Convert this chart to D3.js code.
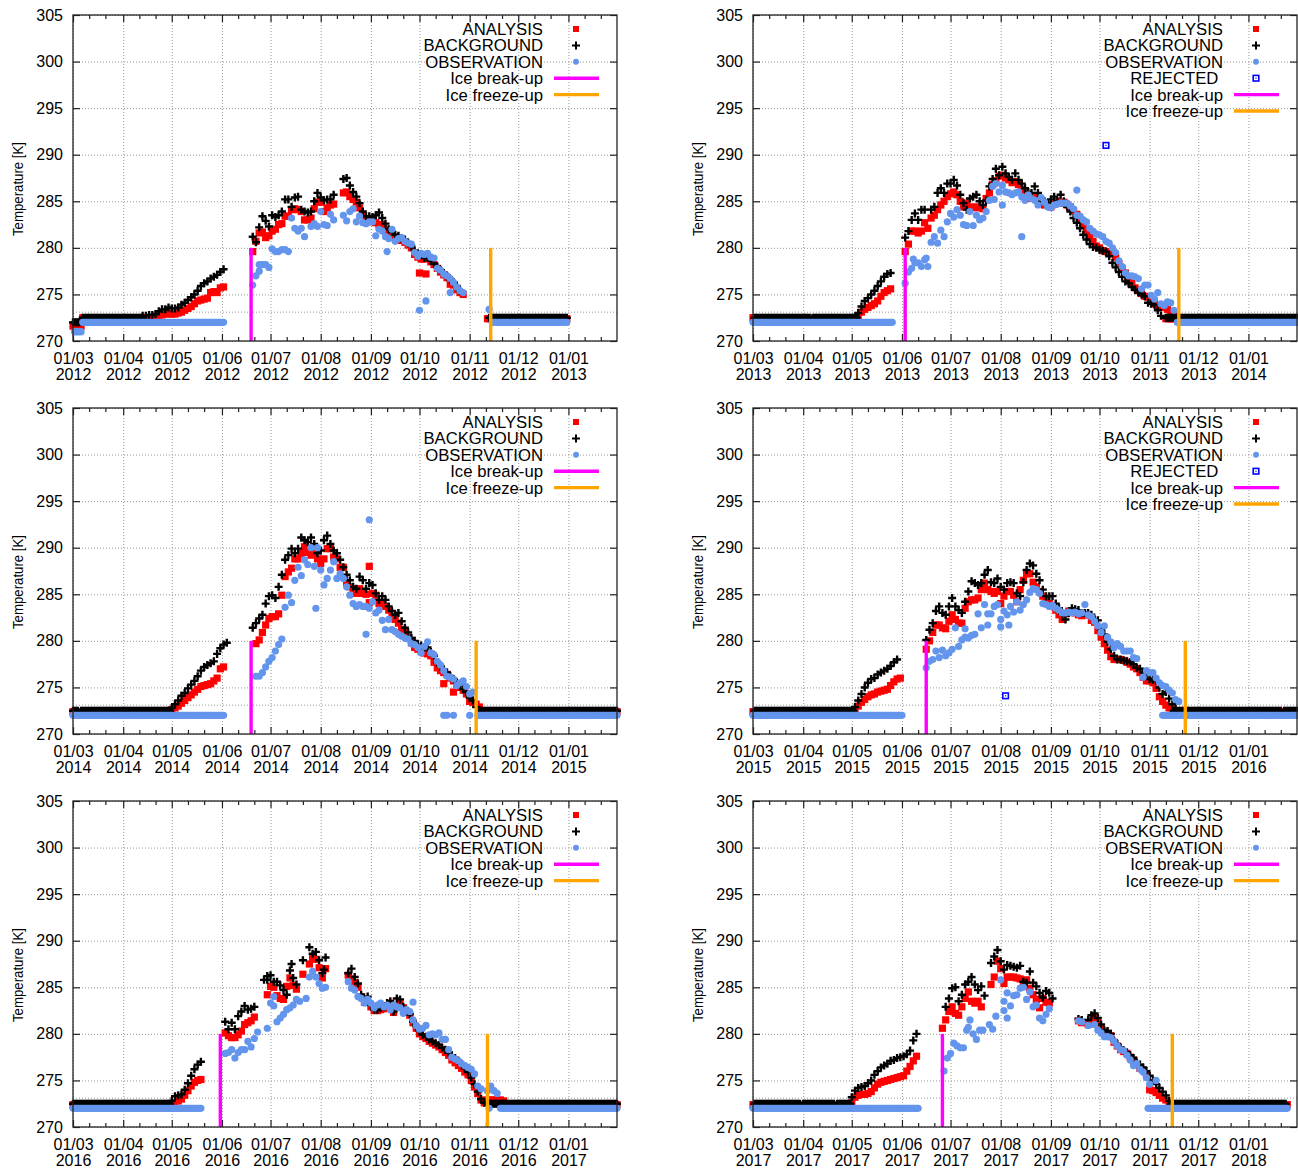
<!DOCTYPE html>
<html>
<head>
<meta charset="utf-8">
<script src="https://cdnjs.cloudflare.com/ajax/libs/d3/7.8.5/d3.min.js"></script>
<style>
  body { margin: 0; background: #fff; }
  text { font-family: "Liberation Sans", Arial, sans-serif; fill: #000; white-space: pre; }
  .frame { fill: none; stroke: #222; stroke-width: 1.3; }
  .axis path { display: none; }
  .axis line { stroke: #222; stroke-width: 1.2; }
  .grid path { display: none; }
  .grid line { stroke: #999; stroke-width: 1; stroke-dasharray: 1 2; }
</style>
</head>
<body>
<div id="chart"></div>
<script>
// series chunks are [first date, values every 2 days], null = no value that day
// runs are [first date, last date, value], one mark per day (the flat ice parts)
// extras are single [date, value] marks

// ---------- 2012 ----------
const analysisRuns2012 = [["2012-03-01","2012-03-06",271.6],["2012-03-07","2012-04-20",272.5],["2012-11-12","2012-12-31",272.4]];
const backgroundRuns2012 = [["2012-03-01","2012-03-05",272],["2012-03-07","2012-04-12",272.5],["2012-11-13","2012-12-31",272.5]];
const observationRuns2012 = [["2012-03-02","2012-03-06",271],["2012-03-07","2012-06-02",272],["2012-11-15","2012-12-31",272]];
const analysis2012 = [
  ["2012-04-21",[272.6,272.7,272.8,272.9,272.9,272.9,272.9,273,273.1,273.3,273.5,273.7,274,274.3,274.4,274.5,274.6,275.2,275.3,275.2,275.7,275.8]],
  ["2012-06-20",[279.6,280.7,281.6,281.7,281.1,281.3,281.8,282,282.5,282.6,283.4,283.4,284.1,284.2,284.1,283.9,283,283,283.2,284.2,284.9,284.9,283.9,284.3,284.6,284.7,null,null,285.9,286,285.5,285.2,284.9,284.3,283.6,283,282.9,282.8,282.7,282.5,282.5,282,281.6,281.3,281.1,281,280.8,280.6,280.3,280,279.3,279,278.8,278.8,278.9,278.5,278.2,277.8,277.4,277.1,276.8,276.1,276,275.5,275.2,275]]
];
const analysisExtra2012 = [["2012-10-01",277.3],["2012-10-05",277.2]];
const background2012 = [
  ["2012-04-13",[272.7,272.7,272.8,272.8,272.9,273.2,273.4,273.4,273.6,273.5,273.5,273.6,273.9,274.1,274.4,274.7,275,275.4,275.9,276.2,276.4,276.7,276.9,277.1,277.4,277.7]],
  ["2012-06-20",[281.2,280.6,282.2,283.4,282.9,282.3,283.5,283.3,283.5,283.9,285.2,285.2,284.4,285.4,285.5,284.1,283.9,283.8,283.9,285,285.9,285.4,285.1,285.2,285.2,285.7,null,null,287.4,287.5,286.7,286,285.5,284.8,283.9,283.4,283.4,283.3,283.5,283.8,283.2,282.6,282,281.7,281.4,281.3,281,280.9,280.5,280.2,279.7,279.4,279.3,278.9,279,278.6,278.3,278,277.6,277.3,277,276.6,276.3,275.9,275.4]]
];
const observation2012 = [
  ["2012-06-20",[276,277,277.5,278.2,278.2,277.9,279.9,279.6,279.6,279.8,279.8,279.6,283.2,282.1,281.8,282.1,281.2,null,282.3,282.6,282.3,283.9,282.5,282.4,283.6,283,null,null,283.5,282.9,283.9,284.2,282.8,283.4,282.7,282.6,282.8,282.8,281.3,282,281.8,281.2,281,282,280.7,281,281.1,280.7,280.5,280.4,279.5,279.1,279.4,279.3,279.4,279,278.9,277.8,277.6,277.2,277,276.7,276.3,275.8,275.4,275.2]]
];
const observationExtra2012 = [["2012-09-11",279.6],["2012-10-01",273.3],["2012-10-05",274.3],["2012-10-20",275.2],["2012-11-13",273.4],["2012-06-24",278.2]];

// ---------- 2013 ----------
const analysisRuns2013 = [["2013-03-01","2013-05-04",272.5],["2013-11-11","2014-01-31",272.4]];
const backgroundRuns2013 = [["2013-03-02","2013-04-05",272.5],["2013-04-07","2013-05-04",272.5],["2013-11-11","2014-01-31",272.5]];
const observationRuns2013 = [["2013-03-01","2013-05-26",272],["2013-11-18","2014-01-31",272]];
const analysis2013 = [
  ["2013-05-05",[272.7,273.1,273.4,273.6,273.8,274,274.3,274.8,275.2,275.4,275.6]],
  ["2013-06-03",[279.6,280.4,281.8,281.8,281.6,281.8,282.7,282.1,283.2,283.5,284.1,284.6,285,285.5,285.8,286,285.7,285,284.4,284.8,284.4,284.3,284.4,284.3,284.2,285.3,285.9,286.8,287.2,287.7,287.8,287.5,287.3,287,287.1,286.8,286.3,285.9,285.3,285.4,285.6,285.2,285,284.6,284.7,284.4,284.7,285,284.8,284.9,284.6,284.4,284,283.6,283,282.5,281.9,281.2,280.7,280.2,280,279.7,279.6,279.5,279.4,279,278.3,277.8,277.3,276.7,276.2,275.7,275.4,275.1,274.8,274.7,274.4,274,273.7,273.6,273.6,273.4,273,272.7,272.5]]
];
const background2013 = [
  ["2013-05-05",[273,273.7,274.3,274.6,275,275.4,275.9,276.4,276.9,277.2,277.3]],
  ["2013-06-03",[281.1,281.8,283,283.7,283,284.1,284.1,null,284.1,284.4,285.9,286.4,285.9,286.9,286.9,287.3,286.7,285.7,284.8,284.1,285.3,285.5,285.7,285,284.6,285.1,286.6,287.4,288.5,287.8,288.7,288,287.6,287.3,288,287.3,286.9,286.4,286,285.9,286.6,285.9,285,285,284.8,285.2,285.5,285,285.7,285,284.4,283.9,283.2,282.7,282.1,281.4,280.9,280.4,280.1,280,279.8,279.7,279.6,279.1,278.4,277.9,277.4,276.9,276.4,276.2,275.8,275.5,275.2,275,274.8,274.1,274,273.9,273.3,272.7]]
];
const observation2013 = [
  ["2013-06-03",[276.2,277.4,277.8,278.4,278.4,278,278.7,278,280.6,281.2,280.5,281.9,281.2,282.8,283.7,283.3,284.1,283.5,282.5,282.4,283.9,282.4,283.5,283,283.2,283.9,285.1,286.6,286.9,286,286.7,286,285.9,285.7,285.9,286,285.5,285.1,285.7,285.3,285.1,284.6,285.4,284.9,284.4,284.3,284.6,284.7,284.8,284.8,284.8,284.5,284.2,283.5,283.4,283,282.8,282.1,281.8,281.5,281.4,281.2,280.7,280.5,280,279.5,278.6,278,277.3,277,277,276.9,276.7,275.6,276,276,274.9,274.5,275.2,274,273.8,274.2,274.1,273.3]]
];
const observationExtra2013 = [["2013-08-14",281.2],["2013-09-17",286.2],["2013-08-02",284.6],["2013-06-16",278.9],["2013-06-08",278.8],["2013-07-28",285.2]];
const rejected2013 = [["2013-10-05",291]];

// ---------- 2014 ----------
const analysisRuns2014 = [["2014-03-01","2014-04-30",272.4],["2014-11-07","2015-01-31",272.4]];
const backgroundRuns2014 = [["2014-03-01","2014-03-04",272.5],["2014-03-06","2014-04-30",272.5],["2014-11-07","2015-01-31",272.5]];
const observationRuns2014 = [["2014-03-01","2014-06-02",272],["2014-11-06","2015-01-31",272]];
const analysis2014 = [
  ["2014-05-01",[272.6,272.8,273,273.3,273.6,273.9,274.2,274.5,274.8,275.1,275.2,275.3,275.4,275.7,276,277,277.2]],
  ["2014-06-22",[279.7,280.1,280.9,281.7,282.4,282.6,282.6,282.9,284.9,286.9,287.4,287.8,288.8,288.8,289.4,290.1,289.5,289.2,289.4,288.8,288.3,288.8,289.9,289.9,289,288.8,287.9,287.9,286.2,285.8,285.6,285.1,285.6,285.1,285,284.1,285.1,284.9,284,284,283.7,283.3,282.6,282.3,281.9,281.2,280.9,280.3,279.8,279.3,279.1,278.9,278.7,278.6,278.4,277.7,277.1,276.8,276.6,276.4,276,275.7,275.3,275,274.7,274.3,273.5,273.4,273.2,272.9]]
];
const analysisExtra2014 = [["2014-08-31",288],["2014-10-16",275.4],["2014-10-22",274.5]];
const background2014 = [
  ["2014-05-01",[272.8,273.2,273.6,274.1,274.4,274.9,275.3,275.7,276.2,276.8,277.2,277.4,277.6,277.8,278.6,279.2,279.6,279.8]],
  ["2014-06-20",[281.4,281.9,282.4,282.8,284,284.8,284.9,284.6,285.8,287.1,288.7,289.2,289.9,289.4,289.9,291.1,290.8,290.6,291.1,290.4,289.4,289.7,290.8,291.3,290.4,289.7,289.4,288.7,287.9,287.1,286.5,285.8,285.6,286.9,286.5,285.6,286.2,286,285.1,284.4,284.8,284.4,283.7,283.2,282.8,283,282.1,281.4,280.9,280.3,280,279.6,279.5,279.3,279.3,278.8,278.4,277.7,277.3,276.9,276.6,276.2,275.9,275.5,275.2,274.8,274.5,273.9,273.6,272.9]]
];
const observation2014 = [
  ["2014-06-20",[null,276.2,276.2,276.6,277.2,277.8,278.2,278.9,279.6,280.2,283.6,284.9,284.1,286.5,287.9,287,288.7,288.2,290,288,290,287.6,286,286.7,287.6,288.5,286.7,287.2,286.7,285.8,284.9,284,283.7,283.9,283.7,283.7,283.5,284.2,283,283.3,282.2,281.2,282.3,281.2,281,280.7,280.5,280.3,280.2,279.7,279.6,279.3,278.7,279.4,279.9,278.7,278.5,277.8,277.4,276.8,276.2,276.1,275.9,275.2,275.5,275.7,275.1,274.3,274.5]]
];
const observationExtra2014 = [["2014-07-29",283.5],["2014-08-29",280.7],["2014-08-31",293],["2014-10-16",272],["2014-10-18",272],["2014-10-22",272],["2014-11-01",272]];

// ---------- 2015 ----------
const analysisRuns2015 = [["2015-03-01","2015-05-02",272.4],["2015-11-16","2016-01-31",272.4]];
const backgroundRuns2015 = [["2015-03-02","2015-05-02",272.5],["2015-11-16","2016-01-21",272.5],["2016-01-23","2016-01-31",272.5]];
const observationRuns2015 = [["2015-03-01","2015-06-01",272],["2015-11-09","2016-01-31",272]];
const analysis2015 = [
  ["2015-05-03",[272.6,273,273.4,273.7,274,274.2,274.3,274.5,274.6,274.7,274.8,275.2,275.6,275.9,276]],
  ["2015-06-16",[279.1,280,280.9,281.7,281.7,281.4,281.3,282.1,282.8,282.3,281.9,281.9,283.5,284.2,284.4,284.4,284.6,285.5,286.2,285.5,285.3,285.1,285.3,284,284.8,285.3,285.3,284.9,284.2,285.5,286.5,287.2,287.2,286.3,285.8,285.3,284.8,284.4,284,283.8,283.3,282.8,282.3,282.9,283.2,283.1,283,282.8,282.7,282.8,282.8,282.2,282,281.1,280.4,279.7,279,278.3,278,278,278,277.9,277.7,277.5,277.2,277,276.6,276.1,275.7,275.7,275.5,274.9,274,273.5,273.1,272.8,272.6]]
];
const background2015 = [
  ["2015-05-03",[272.9,273.6,274.3,275,275.5,275.9,276,276.4,276.6,276.8,277,277.3,277.7,278]],
  ["2015-06-16",[280.1,281.2,281.9,283.2,283.7,283,282.8,283.7,284.6,283.7,283.3,283,284.2,285.3,286.4,286.2,286,286.2,287.1,287.6,286.3,286.2,286.7,285.8,285.5,286.2,286.3,286.2,285.1,284.8,286.3,287.6,288.3,288.1,287.2,286.5,285.5,284.8,284.8,284.8,284,283.5,282.9,282.3,283,283.5,283.4,283.3,283,283,283,282.8,282.3,282.2,281.2,280.7,279.9,279.1,278.4,278,278,277.9,277.8,277.7,277.5,277.1,277,276.6,276.3,275.9,275.8,275.7,275,274.3,274.5,273.8,273.2,272.7]]
];
const observation2015 = [
  ["2015-06-16",[277.1,277.8,278,278.9,278.2,279,278.4,278.7,279.1,281.4,279.4,280.1,280.4,280.3,280.6,280.7,282.9,281.4,283.9,281.7,282.9,283.7,283.9,282.3,283.2,282.8,283.7,283.1,284.2,283.3,283.9,284.4,285.2,285.6,285.5,285.1,284,283.9,283.7,283.8,283.5,283.3,283,283,283.1,283,283.1,282.9,283,283.9,282.8,282.6,282.1,281.6,280.9,281.6,280.4,279.9,279.3,279.7,279.4,278.9,278.9,278.9,278.2,278.1,null,276.1,276.8,276.6,276.6,276,275.5,275.2,275.1,274.7,274.4,273.7,273.5]]
];
const observationExtra2015 = [["2015-07-24",282.9],["2015-08-01",281.5],["2015-08-06",281.7],["2015-07-10",281.3]];
const rejected2015 = [["2015-08-04",274.1]];

// ---------- 2016 ----------
const analysisRuns2016 = [["2016-03-01","2016-05-02",272.4],["2016-11-23","2017-01-31",272.4]];
const backgroundRuns2016 = [["2016-03-01","2016-04-30",272.5],["2016-11-12","2017-01-31",272.5]];
const observationRuns2016 = [["2016-03-01","2016-05-19",272],["2016-11-20","2017-01-31",272]];
const analysis2016 = [
  ["2016-05-03",[272.6,272.8,273,273.4,273.9,274.4,274.8,275,275.1]],
  ["2016-06-03",[280.1,279.8,279.6,279.6,279.9,280.3,281,281.2,281.4,281.8,null,null,null,284.2,285.1,285,284.1,283.8,283.7,285.1,286,285.2,284.8,null,286.4,null,287.5,288.2,288,287.1,286,287,null,null,null,null,null,null,286.3,285.9,285.5,285,284,283.4,283.4,282.9,282.5,282.5,282.6,282.7,283,283.3,282.3,283,283.3,282.8,282.4,282,281.2,280.6,280,279.7,279.5,279.2,279,278.8,278.6,278.3,278,277.7,277.2,276.9,276.6,276.3,275.9,275.6,275,274.3,273.6,272.9,272.6,272.9,272.9,272.9,272.9,272.9,272.8]]
];
const background2016 = [
  ["2016-05-01",[272.8,273.3,273.4,273.5,274,274.7,275.5,276.2,276.7,277]],
  ["2016-06-03",[281.3,280.5,281.2,280.5,281.9,282.4,283,282.6,282.7,282.9,null,null,285.8,285.8,286.3,285.6,285.6,285.2,284.7,284.2,286.8,286,285.3,null,287.9,null,289.3,288.6,288.8,287.9,286.5,288.2,null,null,null,null,null,null,286.5,287,286.1,285.4,284.2,283.7,284,283.1,282.6,282.6,282.8,282.9,283.3,283.5,282.4,283.8,283.7,282.9,282.4,282.1,281.3,280.8,280.3,279.9,279.7,279.4,279.2,279,278.8,278.5,278.3,278,277.7,277.4,277.1,276.8,276.3,275.9,275.3,274.6,273.8,273,272.6]]
];
const backgroundExtra2016 = [["2016-07-14",287.5],["2016-06-29",286.2],["2016-08-03",286.9]];
const observation2016 = [
  ["2016-06-03",[277.9,278,278.3,277.4,278,278.3,278.3,279.2,278.6,279.5,280.2,null,null,280.6,283.3,284,281.3,281.7,282.1,282.6,282.8,283.1,283.7,283.5,null,283.8,286.1,286.7,286.1,285.4,284.9,285,null,null,null,null,null,null,285.6,284.9,284.7,284,283.8,283.3,283.7,283.3,282.8,283.1,283.3,282.9,283.1,282.6,283.1,282.9,282.8,282.2,282.6,282.4,281.5,280.9,280.5,280.6,280.9,279.9,280,279.9,280.1,279.4,279.4,278.3,277.5,277.3,277.1,276.8,276.6,276.4,276.2,275.7,274.4,274.1,null,273.9,274.4,273.9,273.6]]
];
const observationExtra2016 = [["2016-11-13",272],["2016-07-03",283],["2016-09-27",283.4]];

// ---------- 2017 ----------
const analysisRuns2017 = [["2017-03-01","2017-04-30",272.4],["2017-11-14","2018-01-25",272.4]];
const backgroundRuns2017 = [["2017-03-02","2017-03-30",272.5],["2017-04-01","2017-04-20",272.5],["2017-04-22","2017-04-30",272.5],["2017-11-14","2018-01-24",272.5]];
const observationRuns2017 = [["2017-03-01","2017-06-11",272],["2017-10-31","2018-01-25",272]];
const analysis2017 = [
  ["2017-05-01",[272.6,273.2,273.4,273.5,273.5,273.6,273.8,274.2,274.6,274.8,274.9,275,275.1,275.2,275.3,275.4,275.5,276,276.5,277.1,277.6]],
  ["2017-06-26",[280.6,281.5,282.4,282.9,282.2,282,282.9,283.8,284.5,283.5,283.3,283.5,282.9,null,null,285.3,286.1,287.8,287,285.4,286.1,286.1,286.1,286,285.9,285.1,285.8,284.9,284.2,283.7,282.8,283.8,283.4,283.3]],
  ["2017-09-18",[281.4,281.2,null,281,281.4,281.8,281.2,280.6,280.2,280,279.8,279.1,278.7,278.3,278.1,277.9,277.5,277.2,276.7,276.3,276.1,275.7,274,273.9,273.7,273.4,273.1,272.9,272.6]]
];
const background2017 = [
  ["2017-05-01",[273.2,273.9,274.2,274.3,274.4,274.7,275,275.6,276,276.4,276.6,276.8,277.1,277.2,277.4,277.5,277.6,277.8,278.2,279.3,280]],
  ["2017-06-28",[282.9,283.8,284.9,285,283.5,284.2,285.3,285.6,286.1,285.3,284.7,285.1,284.1,null,287.6,288.3,289,287.8,286.9,287.4,287.3,287.2,287.1,287.3,285.6,285.5,286.7,285.5,285.1,284.4,283.9,284.6,284.4,283.8]],
  ["2017-09-18",[281.6,281.5,null,281.5,282,282.2,281.7,281,280.4,280.3,280,279.3,278.9,278.5,278.2,278,277.7,277.4,276.9,276.7,276.4,276,275.5,275,274.6,274.2,273.8,273.4,272.8]]
];
const observation2017 = [
  ["2017-06-27",[276,277.4,277.9,279,278.7,278.5,278.5,280.4,281.5,280,279.4,280.4,280.4,null,281,280.5,281.9]],
  ["2017-08-01",[285.8,283.5,284.4,283,284.1,284.2,284.9,285,283.7,284.5,282.9,283.1,281.7,281.4,282.1,282.7]],
  ["2017-09-18",[281.4,281.3,null,280.9,null,281,280.4,280.1,279.7,279.7,279.6,279.2,278.7,278.3,278.2,277.7,277.2,276.6,276.8,276.2,275.9,275.3,274.6,null,275]]
];
const observationExtra2017 = [["2017-08-03",282.5],["2017-08-05",281.7],["2017-07-12",280.7]];

const panels = [
  {year:2012, col:0, row:0, breakUp:"2012-06-19", freezeUp:"2012-11-14", aRuns:analysisRuns2012, bRuns:backgroundRuns2012, oRuns:observationRuns2012, a:analysis2012, b:background2012, o:observation2012, aX:analysisExtra2012, bX:[], oX:observationExtra2012, rej:null},
  {year:2013, col:1, row:0, breakUp:"2013-06-03", freezeUp:"2013-11-19", aRuns:analysisRuns2013, bRuns:backgroundRuns2013, oRuns:observationRuns2013, a:analysis2013, b:background2013, o:observation2013, aX:[], bX:[], oX:observationExtra2013, rej:rejected2013},
  {year:2014, col:0, row:1, breakUp:"2014-06-19", freezeUp:"2014-11-05", aRuns:analysisRuns2014, bRuns:backgroundRuns2014, oRuns:observationRuns2014, a:analysis2014, b:background2014, o:observation2014, aX:analysisExtra2014, bX:[], oX:observationExtra2014, rej:null},
  {year:2015, col:1, row:1, breakUp:"2015-06-16", freezeUp:"2015-11-23", aRuns:analysisRuns2015, bRuns:backgroundRuns2015, oRuns:observationRuns2015, a:analysis2015, b:background2015, o:observation2015, aX:[], bX:[], oX:observationExtra2015, rej:rejected2015},
  {year:2016, col:0, row:2, breakUp:"2016-05-31", freezeUp:"2016-11-12", aRuns:analysisRuns2016, bRuns:backgroundRuns2016, oRuns:observationRuns2016, a:analysis2016, b:background2016, o:observation2016, aX:[], bX:backgroundExtra2016, oX:observationExtra2016, rej:null},
  {year:2017, col:1, row:2, breakUp:"2017-06-26", freezeUp:"2017-11-15", aRuns:analysisRuns2017, bRuns:backgroundRuns2017, oRuns:observationRuns2017, a:analysis2017, b:background2017, o:observation2017, aX:[], bX:[], oX:observationExtra2017, rej:null}
];

const yTicks = [270,275,280,285,290,295,300,305];
const iceGridLine = 273.15;
const monthNames = ["01/03","01/04","01/05","01/06","01/07","01/08","01/09","01/10","01/11","01/12","01/01"];

const colAnalysis = "#ff0000", colBackground = "#000000", colObservation = "#6495ed",
      colRejected = "#0000ff", colBreak = "#ff00ff", colFreeze = "#ffa500";

const width = 544, height = 326;
const colX = [73, 753], rowY = [15, 408, 801];
const parseDate = d3.utcParse("%Y-%m-%d");

const svg = d3.select("#chart").append("svg")
    .attr("width", 1298).attr("height", 1170)
    .style("display", "block");

// chunks -> {date, value} marks
function expandChunks(chunks) {
    let out = [];
    chunks.forEach(c => {
        let start = parseDate(c[0]);
        c[1].forEach((v, i) => {
            if (v !== null) out.push({date: d3.utcDay.offset(start, i * 2), value: v});
        });
    });
    return out;
}
function expandRuns(runs) {
    let out = [];
    runs.forEach(r => {
        d3.utcDay.range(parseDate(r[0]), d3.utcDay.offset(parseDate(r[1]), 1))
            .forEach(d => out.push({date: d, value: r[2]}));
    });
    return out;
}
function expandExtra(list) {
    return list.map(e => ({date: parseDate(e[0]), value: e[1]}));
}

const plusPath = "M-4,0H4M0,-4V4";

function drawSquare(sel, x, y, s) {
    sel.append("rect").attr("x", x - s / 2).attr("y", y - s / 2)
        .attr("width", s).attr("height", s).attr("fill", colAnalysis);
}
function drawPlus(sel, x, y, w) {
    sel.append("path").attr("d", plusPath).attr("transform", "translate(" + x + "," + y + ")")
        .attr("fill", "none").attr("stroke", colBackground).attr("stroke-width", w);
}
function drawRejected(sel, x, y) {
    sel.append("rect").attr("x", x - 2.8).attr("y", y - 2.8).attr("width", 5.6).attr("height", 5.6)
        .attr("fill", "#fff").attr("stroke", colRejected).attr("stroke-width", 1.6);
    sel.append("rect").attr("x", x - 0.6).attr("y", y - 0.6).attr("width", 1.2).attr("height", 1.2)
        .attr("fill", colRejected);
}

panels.forEach(p => {
    let g = svg.append("g")
        .attr("transform", "translate(" + colX[p.col] + "," + rowY[p.row] + ")");

    let start = new Date(Date.UTC(p.year, 2, 1)), end = new Date(Date.UTC(p.year + 1, 0, 31));
    let x = d3.scaleUtc().domain([start, end]).range([0, width]);
    let y = d3.scaleLinear().domain([270, 305]).range([height, 0]);

    let months = d3.utcMonth.range(start, new Date(Date.UTC(p.year + 1, 0, 2)));
    let minors = [];
    d3.utcMonth.range(start, end).forEach(m => {
        minors.push(d3.utcDay.offset(m, 10), d3.utcDay.offset(m, 20));
    });

    // grid
    g.append("g").attr("class", "grid").attr("transform", "translate(0," + height + ")")
        .call(d3.axisBottom(x).tickValues(months).tickSize(-height).tickFormat(""));
    g.append("g").attr("class", "grid")
        .call(d3.axisLeft(y).tickValues(yTicks.concat([iceGridLine])).tickSize(-width).tickFormat(""));

    // axes, gnuplot style with ticks inward on all four sides
    let xBottom = g.append("g").attr("class", "axis").attr("transform", "translate(0," + height + ")")
        .call(d3.axisBottom(x).tickValues(months).tickSizeInner(-7).tickPadding(10)
            .tickFormat((d, i) => monthNames[i]));
    xBottom.selectAll("text").each(function (d, i) {
        let t = d3.select(this);
        let yr = d.getUTCFullYear();
        t.text(null).attr("font-size", 16).attr("y", 0).attr("dy", 0);
        t.append("tspan").attr("x", 0).attr("y", 23).text(monthNames[i]);
        t.append("tspan").attr("x", 0).attr("y", 39).text(yr);
    });
    g.append("g").attr("class", "axis").attr("transform", "translate(0," + height + ")")
        .call(d3.axisBottom(x).tickValues(minors).tickSizeInner(-4).tickFormat(""));
    g.append("g").attr("class", "axis")
        .call(d3.axisTop(x).tickValues(months).tickSizeInner(-7).tickFormat(""));
    g.append("g").attr("class", "axis")
        .call(d3.axisTop(x).tickValues(minors).tickSizeInner(-4).tickFormat(""));
    let yLeft = g.append("g").attr("class", "axis")
        .call(d3.axisLeft(y).tickValues(yTicks).tickSizeInner(-7).tickPadding(10).tickFormat(d3.format("d")));
    yLeft.selectAll("text").attr("font-size", 16);
    g.append("g").attr("class", "axis").attr("transform", "translate(" + width + ",0)")
        .call(d3.axisRight(y).tickValues(yTicks).tickSizeInner(-7).tickFormat(""));

    g.append("text").attr("transform", "translate(-50," + (height / 2 + 11) + ") rotate(-90)")
        .attr("text-anchor", "middle").attr("font-size", 15)
        .attr("textLength", 94).attr("lengthAdjust", "spacingAndGlyphs")
        .text("Temperature [K]");

    // marks
    let marks = g.append("g");
    expandRuns(p.aRuns).concat(expandChunks(p.a), expandExtra(p.aX))
        .forEach(d => drawSquare(marks, x(d.date), y(d.value), 7.2));
    expandRuns(p.bRuns).concat(expandChunks(p.b), expandExtra(p.bX))
        .forEach(d => drawPlus(marks, x(d.date), y(d.value), 2.4));
    marks.selectAll("circle.obs")
        .data(expandRuns(p.oRuns).concat(expandChunks(p.o), expandExtra(p.oX)))
        .enter().append("circle")
        .attr("class", "obs")
        .attr("cx", d => x(d.date)).attr("cy", d => y(d.value)).attr("r", 3.6)
        .attr("fill", colObservation);
    if (p.rej) expandExtra(p.rej).forEach(d => drawRejected(marks, x(d.date), y(d.value)));

    // ice dates
    [[p.breakUp, colBreak], [p.freezeUp, colFreeze]].forEach(l => {
        g.append("line").attr("x1", x(parseDate(l[0]))).attr("x2", x(parseDate(l[0])))
            .attr("y1", y(270)).attr("y2", y(280))
            .attr("stroke", l[1]).attr("stroke-width", 3.4);
    });

    g.append("rect").attr("class", "frame").attr("width", width).attr("height", height);

    // legend
    let rows = ["ANALYSIS", "BACKGROUND", "OBSERVATION"];
    if (p.rej) rows.push("REJECTED ");
    rows.push("Ice break-up", "Ice freeze-up");
    rows.forEach((name, i) => {
        let ly = 14 + i * 16.4;
        g.append("text").attr("x", 470).attr("y", ly).attr("dy", "0.36em")
            .attr("text-anchor", "end").attr("font-size", 16.7).text(name);
        if (name === "ANALYSIS") drawSquare(g, 503, ly, 6);
        if (name === "BACKGROUND") drawPlus(g, 503, ly, 2);
        if (name === "OBSERVATION") g.append("circle").attr("cx", 503).attr("cy", ly).attr("r", 3).attr("fill", colObservation);
        if (name === "REJECTED ") drawRejected(g, 503, ly);
        if (name === "Ice break-up" || name === "Ice freeze-up") {
            g.append("line").attr("x1", 481).attr("x2", 526).attr("y1", ly).attr("y2", ly)
                .attr("stroke", name === "Ice break-up" ? colBreak : colFreeze).attr("stroke-width", 3.4);
        }
    });
});
</script>
</body>
</html>
